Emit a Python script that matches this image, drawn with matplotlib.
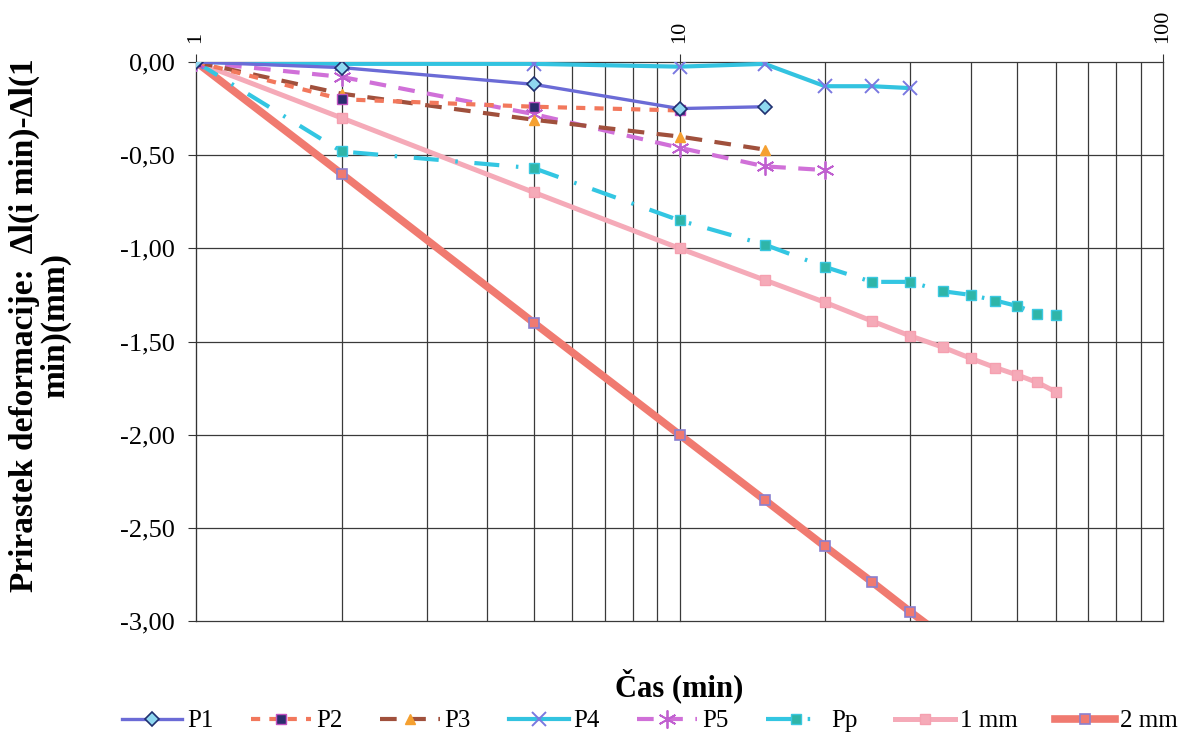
import numpy as np
import matplotlib
matplotlib.use("Agg")
import matplotlib.pyplot as plt
from matplotlib.ticker import FixedLocator, FuncFormatter, NullFormatter

plt.rcParams['font.family'] = ['Liberation Serif', 'DejaVu Serif']

# Time steps (min)
t_p1 = [1, 2, 5, 10, 15]
t_p2 = [1, 2, 5, 10]
t_p3 = [1, 2, 5, 10, 15]
t_p4 = [1, 2, 5, 10, 15, 20, 25, 30]
t_p5 = [1, 2, 5, 10, 15, 20]
t_pp = [1, 2, 5, 10, 15, 20, 25, 30, 35, 40, 45, 50, 55, 60]
t_1mm = [1, 2, 5, 10, 15, 20, 25, 30, 35, 40, 45, 50, 55, 60]
t_2mm = [1, 2, 5, 10, 15, 20, 25, 30, 35]

# Deformation increment (mm)
p1 = [0.00, -0.03, -0.12, -0.25, -0.24]
p2 = [0.00, -0.20, -0.24, -0.26]
p3 = [0.00, -0.17, -0.31, -0.40, -0.47]
p4 = [0.00, -0.01, -0.01, -0.025, -0.01, -0.13, -0.13, -0.14]
p5 = [0.00, -0.08, -0.28, -0.46, -0.56, -0.58]
pp = [0.00, -0.48, -0.57, -0.85, -0.98, -1.10, -1.18, -1.18, -1.23, -1.25,
      -1.28, -1.31, -1.35, -1.36]
mm1 = [0.00, -0.30, -0.70, -1.00, -1.17, -1.29, -1.39, -1.47, -1.53, -1.59,
       -1.64, -1.68, -1.72, -1.77]
mm2 = [0.00, -0.60, -1.40, -2.00, -2.35, -2.60, -2.79, -2.95, -3.08]

fig = plt.figure(figsize=(11.86, 7.4), dpi=100)
ax = fig.add_axes([196 / 1186, 1 - 621 / 740, (1163 - 196) / 1186, (621 - 62) / 740])

ax.plot(t_2mm, mm2, color='#f07a70', lw=5.5, marker='s', ms=7,
        mfc='#f07a70', mec='#8a80d0', mew=1.2, label='2 mm', zorder=3)
ax.plot(t_1mm, mm1, color='#f5aab8', lw=3.6, marker='s', ms=7,
        mfc='#f5aab8', mec='#f5a0b0', label='1 mm', zorder=3)
ax.plot(t_pp, pp, color='#33c6e2', lw=3, dashes=(6, 4, 0.6, 4), marker='s', ms=7,
        mfc='#2fb5a8', mec='#3ac8e0', label='Pp', zorder=4)
ax.plot(t_p5, p5, color='#d070d8', lw=3, dashes=(4, 3), marker=(6, 2, 0), ms=13,
        mec='#c060d0', mew=1.3, label='P5', zorder=4)
ax.plot(t_p4, p4, color='#33c3e0', lw=3, marker='x', ms=10,
        mec='#7a78e0', mew=1.4, label='P4', zorder=4)
ax.plot(t_p3, p3, color='#a0503c', lw=3, dashes=(4, 3), marker='^', ms=7,
        mfc='#f5a030', mec='#f5a030', label='P3', zorder=4)
ax.plot(t_p2, p2, color='#f2785c', lw=3, dashes=(2.2, 2.2), marker='s', ms=7,
        mfc='#2b2d6e', mec='#c050c0', label='P2', zorder=5)
ax.plot(t_p1, p1, color='#6b6bd6', lw=2.4, marker='D', ms=7,
        mfc='#8fd8f0', mec='#203070', mew=1.2, label='P1', zorder=5)

ax.set_xscale('log')
ax.set_xlim(1, 100)
ax.set_ylim(-3, 0)

# log axis labelled along the top, vertical numbers
ax.xaxis.tick_top()
ax.xaxis.set_major_locator(FixedLocator([1, 10, 100]))
ax.xaxis.set_major_formatter(FuncFormatter(lambda v, p: f'{v:g}'))
ax.xaxis.set_minor_locator(FixedLocator([i * d for d in (1, 10) for i in range(2, 10)]))
ax.xaxis.set_minor_formatter(NullFormatter())
ax.tick_params(axis='x', which='major', direction='out', length=6, labelsize=16,
               labelrotation=90, color='#333333', pad=8)
ax.tick_params(axis='x', which='minor', length=0)

ax.set_yticks(np.arange(-3, 0.01, 0.5))
ax.yaxis.set_major_formatter(FuncFormatter(lambda v, p: f'{v:.2f}'.replace('.', ',')))
ax.tick_params(axis='y', direction='out', length=6, labelsize=19, color='#333333', pad=9)

ax.grid(True, which='both', color='#3a3a3a', lw=0.9)
for gl in ax.get_xgridlines() + ax.get_ygridlines():
    gl.set_clip_on(False)
ax.set_axisbelow(True)
for s in ('top', 'right', 'bottom'):
    ax.spines[s].set_visible(False)
ax.spines['left'].set_color('#333333')

ax.xaxis.set_label_position('bottom')
ax.set_xlabel('Čas (min)', fontsize=22, fontweight='bold', labelpad=34)
fig.text(40 / 1186, 0.56, 'Prirastek deformacije:  Δl(i min)-Δl(1\nmin)(mm)',
         rotation=90, ha='center', va='center', multialignment='center',
         fontsize=24, fontweight='bold', linespacing=1.0)

handles, labels = ax.get_legend_handles_labels()
order = ['P1', 'P2', 'P3', 'P4', 'P5', 'Pp', '1 mm', '2 mm']
hmap = dict(zip(labels, handles))
fig.legend([hmap[k] for k in order], order, loc='center', ncol=8,
           bbox_to_anchor=(650 / 1186, 1 - 721 / 740), frameon=False,
           fontsize=18, handlelength=2.4, columnspacing=1.5, handletextpad=0.2)

fig.savefig('out.png', dpi=100)
